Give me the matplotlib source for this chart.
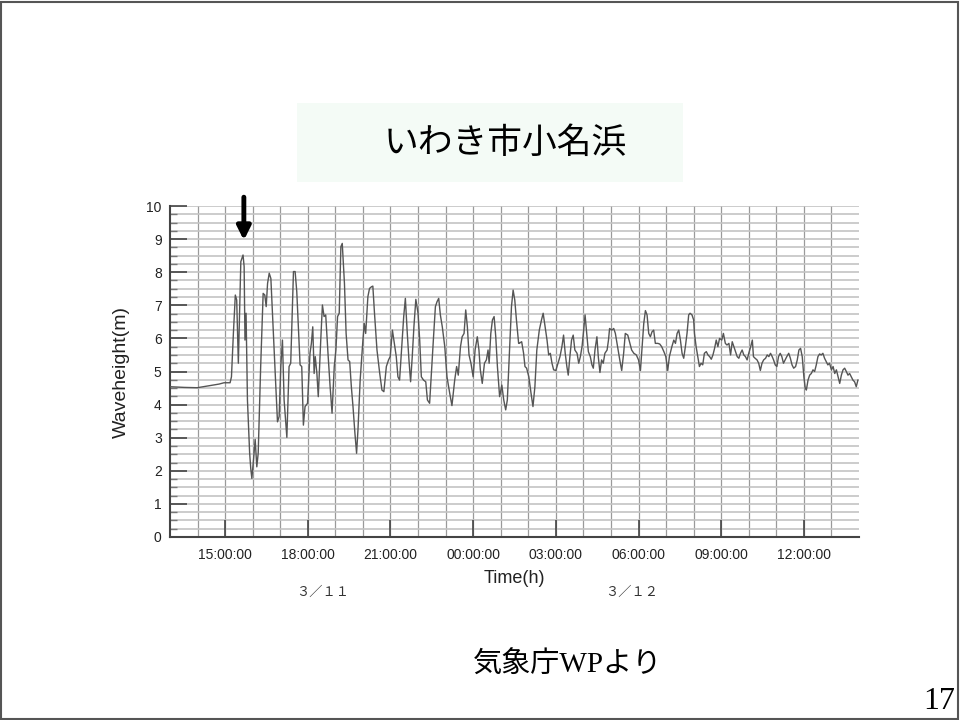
import numpy as np
import matplotlib
matplotlib.use("Agg")
import matplotlib.pyplot as plt
from matplotlib.patches import Rectangle
from matplotlib.ticker import MultipleLocator, FuncFormatter

plt.rcParams['font.family'] = ['Liberation Sans', 'Noto Sans CJK JP', 'DejaVu Sans']

# time in hours from 3/11 00:00, wave height in m
t_1 = [13.00, 13.51, 13.99, 14.36, 14.78, 14.96, 15.18, 15.23, 15.30, 15.37, 15.42, 15.48,
       15.57, 15.65, 15.69, 15.72, 15.76, 15.81, 15.89, 15.93, 15.97, 16.03, 16.09, 16.15,
       16.20, 16.29, 16.38, 16.44, 16.49, 16.54, 16.60, 16.66, 16.75, 16.84, 16.90, 16.96,
       17.02, 17.08, 17.14, 17.24, 17.32, 17.38, 17.48, 17.54, 17.60, 17.72, 17.78, 17.84,
       17.90, 17.99, 18.08, 18.13, 18.18, 18.23, 18.27, 18.33, 18.38, 18.47, 18.53, 18.59,
       18.65, 18.74, 18.81, 18.88, 18.96, 19.02, 19.08, 19.14, 19.20, 19.25]
h_1 = [4.54, 4.52, 4.51, 4.56, 4.62, 4.66, 4.66, 4.84, 6.15, 7.31, 7.16, 5.25,
       8.32, 8.52, 8.17, 5.95, 6.76, 4.14, 2.53, 2.07, 1.77, 2.33, 2.95, 2.12,
       2.53, 5.15, 7.36, 7.31, 6.96, 7.66, 7.97, 7.81, 6.15, 4.54, 3.48, 3.64,
       5.15, 5.95, 4.14, 3.01, 5.15, 5.25, 8.02, 8.02, 7.41, 5.20, 5.15, 3.38,
       3.94, 4.04, 5.55, 5.85, 6.35, 4.94, 5.45, 4.94, 4.24, 5.95, 7.01, 6.66,
       6.71, 5.45, 4.54, 3.74, 5.15, 5.65, 6.66, 6.76, 8.77, 8.87]

t_2 = [19.33, 19.39, 19.46, 19.52, 19.58, 19.64, 19.71, 19.77, 19.82, 19.90, 20.00, 20.05,
       20.10, 20.18, 20.24, 20.31, 20.36, 20.42, 20.51, 20.61, 20.69, 20.76, 20.85, 20.93,
       20.99, 21.07, 21.14, 21.21, 21.27, 21.33, 21.40, 21.48, 21.54, 21.61, 21.67, 21.73,
       21.79, 21.85, 21.92, 22.00, 22.06, 22.12, 22.20, 22.28, 22.34, 22.42, 22.49, 22.57,
       22.63, 22.69, 22.75, 22.81, 22.88, 22.97, 23.05, 23.15, 23.23, 23.33, 23.40, 23.46,
       23.54, 23.60, 23.67, 23.73, 23.79, 23.85, 23.92, 24.00, 24.07, 24.15, 24.21, 24.26,
       24.33, 24.41, 24.48, 24.54, 24.58, 24.64, 24.70, 24.76, 24.82, 24.88, 24.96, 25.04,
       25.11, 25.18, 25.24, 25.33, 25.39, 25.45, 25.51, 25.57, 25.65]
h_2 = [7.66, 6.15, 5.35, 5.30, 4.54, 3.94, 3.13, 2.53, 3.23, 4.74, 5.95, 6.45,
       6.15, 7.26, 7.51, 7.56, 7.58, 6.76, 5.65, 4.94, 4.44, 4.39, 5.15, 5.35,
       5.45, 6.25, 5.85, 5.45, 4.84, 4.74, 5.65, 6.66, 7.21, 6.15, 5.35, 4.69,
       5.45, 6.35, 7.18, 6.76, 5.95, 4.84, 4.74, 4.69, 4.14, 4.04, 5.05, 6.15,
       6.96, 7.11, 7.21, 6.71, 6.35, 5.75, 4.84, 4.34, 3.97, 4.74, 5.15, 4.89,
       5.75, 6.05, 6.15, 6.86, 6.35, 5.50, 5.25, 4.84, 5.65, 6.05, 5.65, 5.05,
       4.64, 5.25, 5.35, 5.65, 5.25, 6.15, 6.56, 6.66, 6.05, 5.15, 4.24, 4.59,
       4.14, 3.84, 4.14, 5.85, 6.96, 7.46, 7.16, 6.56, 5.85]

t_3 = [25.67, 25.76, 25.83, 25.88, 25.94, 26.02, 26.10, 26.17, 26.24, 26.31, 26.40, 26.48,
       26.54, 26.61, 26.68, 26.74, 26.80, 26.86, 26.92, 27.00, 27.08, 27.15, 27.22, 27.28,
       27.34, 27.40, 27.45, 27.51, 27.57, 27.63, 27.69, 27.77, 27.83, 27.89, 27.95, 28.01,
       28.06, 28.12, 28.18, 28.25, 28.31, 28.36, 28.42, 28.49, 28.54, 28.60, 28.66, 28.72,
       28.78, 28.86, 28.91, 28.95, 29.03, 29.10, 29.16, 29.24, 29.32, 29.39, 29.46, 29.52,
       29.61, 29.69, 29.75, 29.83, 29.92, 30.00, 30.07, 30.13, 30.19, 30.25, 30.31, 30.37,
       30.43, 30.49, 30.55, 30.61, 30.70, 30.77, 30.84, 30.92, 30.99, 31.06, 31.12, 31.21,
       31.28, 31.34, 31.40, 31.46, 31.52, 31.58, 31.64, 31.70, 31.76, 31.82, 31.87, 31.94,
       32.00]
h_3 = [5.85, 5.90, 5.55, 5.15, 5.10, 4.84, 4.34, 3.94, 4.54, 5.65, 6.25, 6.56,
       6.76, 6.35, 5.95, 5.50, 5.55, 5.25, 5.05, 5.03, 5.25, 5.45, 5.75, 6.10,
       5.55, 5.15, 4.89, 5.45, 5.95, 6.10, 5.65, 5.55, 5.25, 5.45, 5.75, 6.25,
       6.71, 6.15, 5.60, 5.45, 5.20, 5.10, 5.65, 6.05, 5.45, 4.97, 5.35, 5.25,
       5.55, 5.65, 5.95, 6.30, 6.25, 6.30, 6.15, 5.75, 5.35, 5.03, 5.55, 6.15,
       6.10, 5.85, 5.65, 5.55, 5.50, 5.35, 5.03, 5.75, 6.45, 6.84, 6.71, 6.15,
       6.05, 6.20, 6.25, 5.85, 5.85, 5.83, 5.75, 5.60, 5.45, 5.03, 5.45, 5.75,
       5.95, 5.85, 6.15, 6.25, 5.95, 5.55, 5.40, 5.75, 6.15, 6.71, 6.76, 6.71,
       6.56]

t_4 = [32.03, 32.09, 32.15, 32.21, 32.27, 32.33, 32.39, 32.46, 32.52, 32.58, 32.64, 32.70,
       32.76, 32.82, 32.88, 32.94, 33.02, 33.08, 33.15, 33.21, 33.28, 33.34, 33.40, 33.46,
       33.52, 33.58, 33.64, 33.70, 33.76, 33.82, 33.88, 33.94, 34.00, 34.07, 34.13, 34.17,
       34.23, 34.30, 34.36, 34.42, 34.48, 34.54, 34.61, 34.67, 34.73, 34.79, 34.85, 34.90,
       34.96, 35.02, 35.08, 35.14, 35.20, 35.26, 35.32, 35.38, 35.45, 35.51, 35.57, 35.63,
       35.70, 35.76, 35.82, 35.88, 35.94, 36.00, 36.05, 36.09, 36.15, 36.21, 36.27, 36.33,
       36.39, 36.45, 36.51, 36.57, 36.63, 36.69, 36.75, 36.81, 36.87, 36.93, 37.00, 37.06,
       37.12, 37.18, 37.24, 37.30, 37.36, 37.42, 37.48, 37.54, 37.60, 37.66, 37.72, 37.78,
       37.84, 37.90, 37.96]
h_4 = [6.15, 5.75, 5.45, 5.15, 5.25, 5.20, 5.55, 5.60, 5.50, 5.45, 5.37, 5.50,
       5.70, 5.95, 5.75, 6.00, 5.95, 6.15, 5.85, 5.80, 5.85, 5.50, 5.90, 5.75,
       5.60, 5.45, 5.40, 5.55, 5.65, 5.50, 5.45, 5.35, 5.55, 5.75, 5.95, 5.45,
       5.40, 5.35, 5.25, 5.03, 5.25, 5.35, 5.40, 5.50, 5.45, 5.55, 5.45, 5.35,
       5.20, 5.15, 5.45, 5.55, 5.45, 5.25, 5.35, 5.45, 5.55, 5.40, 5.20, 5.10,
       5.15, 5.35, 5.65, 5.70, 5.45, 4.84, 4.49, 4.44, 4.74, 4.89, 4.94, 5.05,
       5.00, 5.20, 5.45, 5.53, 5.50, 5.55, 5.40, 5.30, 5.20, 5.25, 5.05, 5.15,
       4.94, 5.05, 4.84, 4.64, 4.89, 5.05, 5.10, 5.00, 4.89, 4.94, 4.84, 4.74,
       4.69, 4.54, 4.74]

major_hours = [15, 18, 21, 24, 27, 30, 33, 36]
date_labels = ['３／１１', '３／１２']
date_pos = [18.55, 29.76]
arrow_hour = 15.68

t = np.array(t_1 + t_2 + t_3 + t_4)
h = np.array(h_1 + h_2 + h_3 + h_4)

fig = plt.figure(figsize=(9.6, 7.2), dpi=100)
ax = fig.add_axes([170 / 960, 183 / 720, 689 / 960, 331 / 720])

ax.plot(t, h, color='#555555', lw=1.0, zorder=3)

ax.set_xlim(13, 38)
ax.set_ylim(0, 10)

# grid: every hour / every 0.25 m
for hr in range(14, 38):
    ax.axvline(hr, color='#9a9a9a', lw=0.9, zorder=1)
for k in range(1, 41):
    ax.axhline(k * 0.25, color='#c4c4c4', lw=1.2, zorder=1)

ax.xaxis.set_major_locator(plt.FixedLocator(major_hours))
ax.xaxis.set_major_formatter(FuncFormatter(lambda v, p: f"{int(v) % 24:02d}:00:00"))
ax.yaxis.set_major_locator(MultipleLocator(1))
ax.yaxis.set_minor_locator(MultipleLocator(0.25))
ax.tick_params(axis='both', direction='in', length=12, width=1.2, color='#444444',
               labelsize=10, labelcolor='#222222')
ax.tick_params(axis='y', which='minor', direction='in', length=5, width=1.0, color='#777777')
ax.tick_params(axis='x', pad=8)
ax.tick_params(axis='y', pad=6)

for s in ['top', 'right']:
    ax.spines[s].set_visible(False)
for s in ['left', 'bottom']:
    ax.spines[s].set_color('#444444')
    ax.spines[s].set_linewidth(1.5)

ax.set_ylabel('Waveheight(m)', fontsize=14, color='#222222')
ax.yaxis.set_label_coords(-0.058, 0.5)
ax.set_xlabel('Time(h)', fontsize=13, color='#222222')
ax.xaxis.set_label_coords(0.5, -0.10)

for lab, pos in zip(date_labels, date_pos):
    ax.text(pos, -1.66, lab, ha='center', va='center', fontsize=9.5, color='#333333',
            family=['Noto Sans CJK JP'], clip_on=False)

ax.annotate('', xy=(arrow_hour, 8.88), xytext=(arrow_hour, 10.35),
            arrowprops=dict(arrowstyle='-|>', lw=3.5, color='black', mutation_scale=20),
            annotation_clip=False)

# title box
fig.add_artist(Rectangle((297 / 960, 538 / 720), 386 / 960, 79 / 720,
                         transform=fig.transFigure, facecolor='#f4fbf6', edgecolor='none'))
fig.text(505 / 960, 577 / 720, 'いわき市小名浜', ha='center', va='center', fontsize=25,
         family=['Noto Sans CJK JP'])

fig.text(567 / 960, 55 / 720, '気象庁WPより', ha='center', va='center', fontsize=21,
         family=['Liberation Serif', 'Noto Sans CJK JP'])
fig.text(955 / 960, 11 / 720, '17', ha='right', va='baseline', fontsize=23,
         family=['Liberation Serif'])

# slide border
fig.add_artist(Rectangle((1 / 960, 1.5 / 720), 957 / 960, 717 / 720,
                         transform=fig.transFigure, facecolor='none',
                         edgecolor='#555555', lw=1.5))

fig.savefig('out.png', dpi=100)
